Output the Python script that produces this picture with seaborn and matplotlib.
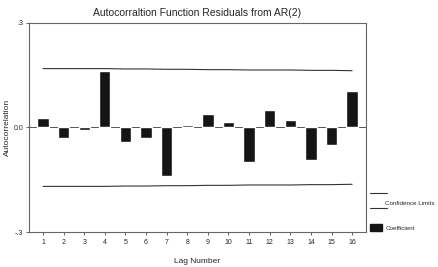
import numpy as np
import pandas as pd
import matplotlib
matplotlib.use('Agg')
import matplotlib.pyplot as plt
import seaborn as sns
from matplotlib.legend_handler import HandlerBase
from matplotlib.lines import Line2D
from matplotlib.patches import Patch

# values
lags = list(range(1, 17))
acf = [0.026, -0.031, -0.006, 0.161, -0.041, -0.029, -0.139, 0.0075,
       0.038, 0.015, -0.099, 0.050, 0.021, -0.094, -0.049, 0.106]
upper_conf = [0.169, 0.169, 0.169, 0.169, 0.168, 0.168, 0.167, 0.167,
              0.166, 0.166, 0.165, 0.165, 0.165, 0.164, 0.164, 0.163]
lower_conf = [-v for v in upper_conf]

df = pd.DataFrame({'Lag': lags, 'ACF': acf})


class HandlerTwoLines(HandlerBase):
    # draws one line above and one below the label, like the SPSS legend
    def create_artists(self, legend, orig_handle, xdescent, ydescent,
                       width, height, fontsize, trans):
        top = Line2D([-xdescent, -xdescent + width * 1.5],
                     [height * 1.8, height * 1.8], color='#333333', lw=0.8)
        bot = Line2D([-xdescent, -xdescent + width * 1.5],
                     [-height * 0.5, -height * 0.5], color='#333333', lw=0.8)
        top.set_transform(trans)
        bot.set_transform(trans)
        return [top, bot]


sns.set_style('ticks')
plt.rcParams['font.family'] = ['Liberation Sans', 'DejaVu Sans']

fig = plt.figure(figsize=(4.39, 2.67), dpi=100)
ax = fig.add_axes([0.066, 0.131, 0.768, 0.783])

sns.barplot(data=df, x='Lag', y='ACF', color='#151515', width=0.55,
            saturation=1, ax=ax)

pos = np.arange(len(lags))
ax.plot(pos, upper_conf, color='#333333', lw=0.8)
ax.plot(pos, lower_conf, color='#333333', lw=0.8)
ax.axhline(0, color='#555555', lw=0.7, zorder=0)

ax.set_xlim(-0.68, 15.68)
ax.set_ylim(-0.3, 0.3)
ax.set_yticks([-0.3, 0.0, 0.3])
ax.set_yticklabels(['-.3', '0.0', '.3'])
ax.tick_params(axis='both', labelsize=5, length=2, width=0.6,
               color='#444444', pad=2, direction='out',
               bottom=True, left=True)
ax.tick_params(axis='x', pad=3)

for s in ax.spines.values():
    s.set_visible(True)
    s.set_color('#666666')
    s.set_linewidth(0.8)

ax.set_xlabel('Lag Number', fontsize=6, labelpad=9)
ax.set_ylabel('Autocorrelation', fontsize=6, labelpad=2)
ax.set_title('Autocorraltion Function Residuals from AR(2)', fontsize=7.5, pad=5)

handles = [Line2D([], [], color='#333333'), Patch(color='#151515')]
fig.legend(handles, ['Confidence Limits', 'Coefficient'],
           handler_map={Line2D: HandlerTwoLines()},
           loc='upper left', bbox_to_anchor=(0.838, 0.262),
           frameon=False, fontsize=4.5, handlelength=1.8, handleheight=1.3,
           handletextpad=0.6, labelspacing=2.9, borderaxespad=0)

fig.savefig('out.png', dpi=100)
